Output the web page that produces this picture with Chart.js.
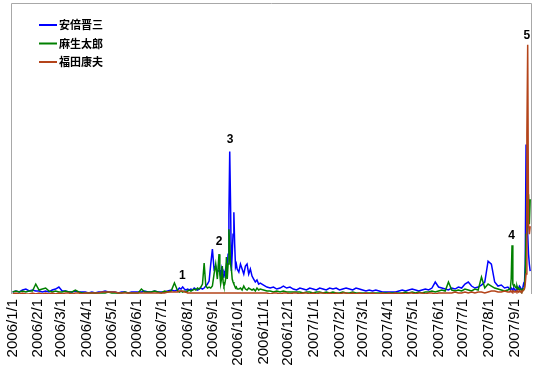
<!DOCTYPE html>
<html>
<head>
<meta charset="utf-8">
<script src="https://cdn.jsdelivr.net/npm/chart.js@4"></script>
<style>
  html, body { margin: 0; padding: 0; background: #fff; }
  #wrap { width: 543px; height: 369px; }
</style>
</head>
<body>
<div id="wrap"><canvas id="trendChart"></canvas></div>
<script>
// day index counted from 2006/1/1
const days = [
  0, 4, 8, 12, 16, 20, 24, 28, 32, 36, 40, 44, 48, 52, 56, 60, 64, 68, 72, 76,
  80, 84, 88, 92, 96, 100, 104, 108, 112, 116, 120, 124, 128, 132, 136, 140, 144, 148, 152, 156,
  160, 164, 168, 172, 176, 180, 184, 188, 192, 196,
  200, 202, 204, 206, 208, 210, 212, 214, 216, 218, 220, 222, 224, 226, 228, 230, 232, 234, 236, 238,
  240, 242, 244, 246, 248, 250,
  251, 252, 253, 254, 255, 256, 257, 258, 259, 260, 261, 262, 263, 264, 265, 266, 267, 268, 269, 270,
  271, 272,
  274, 276, 278, 280, 282, 284, 286, 288, 290, 292, 294, 296, 298, 300,
  304, 308, 312, 316, 320, 324, 328, 332, 336, 340, 344, 348, 352, 356, 360, 364, 368, 372, 376, 380,
  384, 388, 392, 396, 400, 404, 408, 412, 416, 420, 424, 428, 432, 436, 440, 444, 448, 452, 456, 460,
  464, 468, 472, 476, 480, 484, 488, 492, 496, 500, 504, 508, 512, 516, 520, 524, 528, 532, 536, 540,
  544, 548, 552, 556, 560, 564, 568, 572, 576, 580, 584, 588, 592, 596, 600,
  602, 603, 604, 605, 606, 607, 608, 609, 610, 611, 612, 613, 614, 615, 616, 617, 618, 619, 620, 621,
  622, 623, 624, 625, 626, 627
];

const abeValues = [
  0.8, 1.2, 0.8, 1.6, 2, 1.2, 1.6, 1.2, 1.2, 0.8, 1.2, 0.8, 1.6, 2, 2.8, 1.2, 1.2, 0.8, 0.8, 1.2,
  0.8, 0.8, 0.8, 0.4, 0.8, 0.4, 0.8, 0.8, 1.2, 0.8, 0.8, 0.8, 0.4, 0.8, 0.8, 0.4, 0.8, 0.8, 0.8, 0.8,
  1.2, 0.8, 0.8, 1.2, 0.8, 0.8, 0.8, 1.2, 1.6, 1.2,
  1.6, 2.4, 2, 2.8, 2, 1.6, 2, 1.6, 2, 1.6, 2.4, 2, 1.6, 2, 2.4, 2, 2.4, 3.2, 4, 5.2,
  12, 18, 10, 11.2, 8.8, 9.6,
  8.8, 7.2, 10, 8, 6.8, 8.8, 8, 10, 12, 11.2, 16, 32, 57.2, 36, 9.2, 16, 24, 32.8, 20, 10.8,
  12, 10,
  8.8, 12, 10, 8, 11.2, 12, 8, 10, 7.2, 6, 4.8, 5.6, 4, 4.4,
  3.6, 2.8, 2.4, 2.8, 2, 2.4, 3.2, 2.4, 2.8, 2, 1.6, 2.4, 2, 1.6, 2.4, 2, 1.6, 2.4, 2, 1.6,
  2.4, 2, 2.4, 1.6, 2, 2.4, 2, 1.6, 2.4, 2, 1.6, 1.2, 1.6, 1.2, 1.6, 1.2, 0.8, 0.8, 0.8, 0.8,
  0.8, 1.2, 1.6, 1.2, 1.6, 2, 1.6, 1.2, 1.6, 2, 1.6, 2.4, 4.8, 2.8, 2.4, 2, 1.6, 2.4, 2, 2.8,
  2.4, 4, 4.8, 3.2, 2.4, 2.8, 3.6, 4.8, 13.2, 12, 4.8, 3.2, 3.6, 2.4, 2.8,
  2, 1.6, 2.4, 2, 1.6, 2.4, 2, 1.2, 1.6, 2.8, 2.4, 2, 3.2, 2.8, 2, 1.6, 2.4, 4, 3.2, 12,
  60, 44, 24, 16, 12, 9.2
];

const asoValues = [
  0.8, 1.2, 0.8, 1.2, 0.8, 1.2, 1.2, 4, 1.6, 2, 2.4, 1.2, 0.8, 1.2, 0.8, 0.8, 1.2, 0.8, 0.8, 1.6,
  0.8, 0.4, 0.4, 0.4, 0.4, 0.4, 0.4, 0.4, 0.4, 0.8, 0.4, 0.4, 0.4, 0.4, 0.8, 0.4, 0.4, 0.4, 0.4, 2,
  0.8, 0.8, 0.8, 1.2, 0.8, 0.4, 1.2, 0.8, 1.2, 4.4,
  1.2, 0.8, 1.2, 0.8, 1.2, 0.8, 1.2, 1.6, 1.2, 1.6, 2, 1.6, 2.4, 2, 2.8, 4, 12.4, 3.2, 2.4, 2.8,
  2.4, 3.2, 8, 12, 6, 16,
  8, 4, 6, 11.2, 4.8, 3.2, 4, 6, 14.8, 6, 12, 26, 20, 12, 10, 6, 4.8, 4, 3.2, 2.4,
  2.8, 2,
  2, 2.4, 1.6, 3.2, 2, 1.6, 2.4, 2, 1.6, 2, 1.2, 2.4, 1.6, 2,
  1.6, 1.2, 1.2, 0.8, 1.2, 0.8, 1.2, 0.8, 0.8, 0.8, 0.8, 0.8, 0.4, 0.8, 0.8, 0.4, 0.8, 0.8, 0.4, 0.8,
  0.4, 0.8, 0.4, 0.4, 0.8, 0.4, 0.4, 0.8, 0.4, 0.4, 0.4, 0.4, 0.4, 0.4, 0.4, 0.4, 0.4, 0.4, 0.4, 0.4,
  0.4, 0.4, 0.4, 0.8, 0.4, 0.8, 0.4, 0.8, 0.4, 0.8, 0.8, 1.2, 0.8, 1.2, 1.6, 1.2, 4.8, 1.6, 1.2, 1.6,
  1.2, 2, 1.6, 1.2, 2, 1.6, 6.8, 2.4, 4, 3.2, 2.4, 2, 1.6, 1.2, 1.6,
  2, 2.4, 6, 19.6, 4, 3.2, 3.6, 2.8, 2.4, 3.2, 2, 2.4, 1.6, 2, 1.6, 1.2, 2, 1.6, 2.4, 8,
  24, 40, 32, 40, 28, 38
];

const fukudaValues = [
  0, 0.4, 0, 0.4, 0, 0, 0.4, 0, 0.4, 0, 0.4, 0, 0.4, 0, 0.4, 0, 0.4, 0.4, 0, 0.4,
  0.4, 0, 0.4, 0.4, 0.4, 0.4, 0.4, 0.8, 0.8, 0.8, 0.8, 0.8, 0.4, 0.4, 0.4, 0.4, 0.4, 0.4, 0.4, 0.4,
  0.4, 0.4, 0.4, 0.4, 0.4, 0.4, 0.4, 0.8, 0.8, 0.8,
  0.8, 1.2, 1.2, 1.2, 0.8, 0.8, 0.4, 0.4, 0.4, 0.4, 0.4, 0.4, 0.4, 0.4, 0.4, 0.4, 0.4, 0.4, 0.4, 0.4,
  0.4, 0.4, 0.4, 0.4, 0.4, 0.4,
  0.4, 0.4, 0.4, 0.4, 0.4, 0.4, 0.4, 0.4, 0.4, 0.4, 0.4, 0.4, 0.4, 0.4, 0.4, 0.4, 0.4, 0.4, 0.4, 0.4,
  0.4, 0.4,
  0.4, 0.4, 0.4, 0.4, 0.4, 0.4, 0.4, 0.4, 0.4, 0.4, 0.4, 0.4, 0.4, 0.4,
  0.4, 0.4, 0, 0.4, 0.4, 0, 0.4, 0.4, 0, 0.4, 0.4, 0, 0.4, 0.4, 0, 0.4, 0, 0.4, 0.4, 0,
  0.4, 0, 0.4, 0, 0.4, 0.4, 0, 0.4, 0, 0.4, 0, 0.4, 0, 0.4, 0, 0, 0.4, 0, 0.4, 0,
  0.4, 0, 0.4, 0, 0.4, 0.4, 0, 0.4, 0.4, 0, 0.4, 0.4, 0, 0.4, 0.4, 0.4, 0.4, 0.4, 0.8, 0.4,
  0.4, 0.8, 0.4, 0.8, 0.4, 0.8, 0.8, 0.4, 0.8, 1.2, 1.2, 0.8, 0.8, 1.2, 0.8,
  0.8, 1.2, 0.8, 1.2, 0.8, 1.2, 0.8, 0.8, 1.2, 0.8, 1.2, 0.8, 1.2, 0.8, 1.2, 0.8, 1.2, 1.6, 2, 4,
  8, 64, 100, 28, 24, 27.2
];

const seriesNames = ["安倍晋三", "麻生太郎", "福田康夫"];
const seriesColors = ["#0000ff", "#008000", "#b4441a"];

const monthDays = [0, 31, 59, 90, 120, 151, 181, 212, 243, 273, 304, 334,
  365, 396, 424, 455, 485, 516, 546, 577, 608];
const monthLabels = ["2006/1/1", "2006/2/1", "2006/3/1", "2006/4/1", "2006/5/1", "2006/6/1",
  "2006/7/1", "2006/8/1", "2006/9/1", "2006/10/1", "2006/11/1", "2006/12/1",
  "2007/1/1", "2007/2/1", "2007/3/1", "2007/4/1", "2007/5/1", "2007/6/1",
  "2007/7/1", "2007/8/1", "2007/9/1"];

// numbered event markers
const noteDays = [205.7, 250, 263.4, 604.5, 623];
const noteValues = [7.2, 20.8, 62, 23.6, 103.6];
const noteTexts = ["1", "2", "3", "4", "5"];

function toPoints(vals) {
  return days.map((d, i) => ({ x: d, y: vals[i] }));
}

const framePlugin = {
  id: "frame",
  beforeDatasetsDraw(chart) {
    const a = chart.chartArea;
    const c = chart.ctx;
    c.save();
    c.strokeStyle = "#a8a8a8";
    c.lineWidth = 1;
    c.beginPath();
    c.moveTo(Math.round(a.left) + 0.5, Math.round(a.bottom));
    c.lineTo(Math.round(a.left) + 0.5, Math.round(a.top) + 0.5);
    c.lineTo(Math.round(a.right) + 0.5, Math.round(a.top) + 0.5);
    c.lineTo(Math.round(a.right) + 0.5, Math.round(a.bottom));
    c.stroke();
    c.restore();
  }
};

const notesPlugin = {
  id: "notes",
  afterDatasetsDraw(chart) {
    const c = chart.ctx;
    const xs = chart.scales.x, ys = chart.scales.y;
    c.save();
    c.font = "bold 12px 'Liberation Sans', Arial, sans-serif";
    c.fillStyle = "#000";
    c.textAlign = "center";
    c.textBaseline = "middle";
    noteTexts.forEach((t, i) => {
      c.fillText(t, xs.getPixelForValue(noteDays[i]), ys.getPixelForValue(noteValues[i]));
    });

    // legend inside the plot
    const a = chart.chartArea;
    c.font = "bold 11px 'Noto Sans CJK JP', sans-serif";
    c.textAlign = "left";
    chart.data.datasets.forEach((ds, i) => {
      const y = a.top + 22 + i * 18.5;
      c.strokeStyle = ds.borderColor;
      c.lineWidth = 2;
      c.beginPath();
      c.moveTo(a.left + 28, y);
      c.lineTo(a.left + 46, y);
      c.stroke();
      c.fillText(ds.label, a.left + 48, y);
    });
    c.restore();
  }
};

const ctx = document.getElementById("trendChart").getContext("2d");

new Chart(ctx, {
  type: "line",
  data: {
    datasets: [
      { label: seriesNames[0], data: toPoints(abeValues), borderColor: seriesColors[0], order: 3 },
      { label: seriesNames[1], data: toPoints(asoValues), borderColor: seriesColors[1], order: 2 },
      { label: seriesNames[2], data: toPoints(fukudaValues), borderColor: seriesColors[2], order: 1 }
    ]
  },
  options: {
    responsive: true,
    maintainAspectRatio: false,
    animation: false,
    elements: {
      point: { radius: 0 },
      line: { borderWidth: 1.5, tension: 0, fill: false }
    },
    layout: { padding: { left: 11, right: 12, top: 3, bottom: 0 } },
    plugins: {
      legend: { display: false },
      tooltip: { enabled: false }
    },
    scales: {
      x: {
        type: "linear",
        min: -2,
        max: 628,
        grid: { display: false, drawTicks: false },
        border: { display: false },
        afterBuildTicks(scale) {
          scale.ticks = monthDays.map(v => ({ value: v }));
        },
        afterFit(scale) {
          scale.height = 75;
        },
        ticks: {
          autoSkip: false,
          minRotation: 90,
          maxRotation: 90,
          padding: 5,
          color: "#000",
          font: { family: "'Liberation Sans', Arial, sans-serif", size: 15 },
          callback(value, index) {
            return monthLabels[index];
          }
        }
      },
      y: {
        display: false,
        min: 0,
        max: 116.8
      }
    }
  },
  plugins: [framePlugin, notesPlugin]
});
</script>
</body>
</html>
